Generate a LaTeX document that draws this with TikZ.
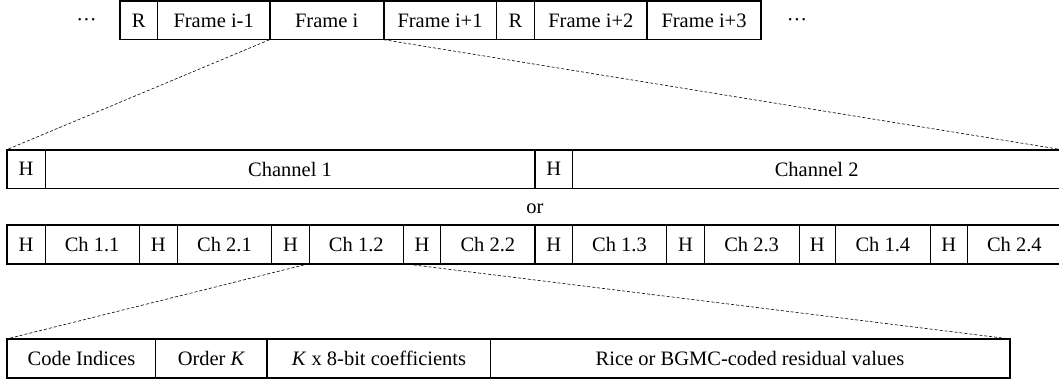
\documentclass[tikz,border=0pt]{standalone}
\usepackage{fontspec}
\setmainfont{Liberation Serif}
\tikzset{
  cell/.style={draw, line width=0.8pt, inner sep=0pt, font=\fontsize{20.5}{24}\selectfont},
  thickline/.style={line width=1.6pt},
  zoomline/.style={line width=0.6pt, dash pattern=on 3pt off 2pt},
  plain/.style={inner sep=0pt, font=\fontsize{20.5}{24}\selectfont}
}
\newcommand\cellat[6]{\node[cell, minimum width={(#3)-(#2)}, minimum height={(#5)-(#4)}] (#1) at ({((#2)+(#3))/2},{((#4)+(#5))/2}) {#6};}
\begin{document}
\begin{tikzpicture}[x=1pt,y=-1pt]
\useasboundingbox (0,0) rectangle (1059,379);
% top row
\def\ta{1.7}\def\tb{39.3}
\cellat{ra}{120}{157.3}{\ta}{\tb}{R}
\cellat{fa}{157.3}{270}{\ta}{\tb}{Frame i-1}
\cellat{fi}{270}{383.3}{\ta}{\tb}{Frame i}
\cellat{fb}{383.3}{496.7}{\ta}{\tb}{Frame i+1}
\cellat{rb}{496.7}{534.3}{\ta}{\tb}{R}
\cellat{fc}{534.3}{647.3}{\ta}{\tb}{Frame i+2}
\cellat{fd}{647.3}{760.7}{\ta}{\tb}{Frame i+3}
\node[plain, anchor=base] (dl) at (86.5,27) {···};
\node[plain, anchor=base] (dr) at (797,27) {···};
\draw[thickline] (ra.north west) rectangle (fd.south east);
\draw[thickline] (fi.north west) -- (fi.south west);
\draw[thickline] (fi.north east) -- (fi.south east);
\draw[thickline] (fd.north west) -- (fd.south west);
% row 2
\def\ba{150}\def\bb{188}
\cellat{ha}{7.3}{45}{\ba}{\bb}{H}
\cellat{cha}{45}{535}{\ba}{\bb}{Channel 1}
\cellat{hb}{535}{572.3}{\ba}{\bb}{H}
\cellat{chb}{572.3}{1061}{\ba}{\bb}{Channel 2}
\draw[thickline] (ha.north west) rectangle (chb.south east);
\draw[thickline] (hb.north west) -- (hb.south west);
\node[plain, anchor=base] (or) at (535,213.3) {or};
% row 3
\def\ca{225.7}\def\cb{263.3}
\cellat{h1}{7.3}{45}{\ca}{\cb}{H}
\cellat{c11}{45}{139.3}{\ca}{\cb}{Ch 1.1}
\cellat{h2}{139.3}{177.3}{\ca}{\cb}{H}
\cellat{c21}{177.3}{271.7}{\ca}{\cb}{Ch 2.1}
\cellat{h3}{271.7}{309.3}{\ca}{\cb}{H}
\cellat{c12}{309.3}{403.3}{\ca}{\cb}{Ch 1.2}
\cellat{h4}{403.3}{440.7}{\ca}{\cb}{H}
\cellat{c22}{440.7}{535}{\ca}{\cb}{Ch 2.2}
\cellat{h5}{535}{572.3}{\ca}{\cb}{H}
\cellat{c13}{572.3}{666.7}{\ca}{\cb}{Ch 1.3}
\cellat{h6}{666.7}{704.3}{\ca}{\cb}{H}
\cellat{c23}{704.3}{799}{\ca}{\cb}{Ch 2.3}
\cellat{h7}{799}{835.7}{\ca}{\cb}{H}
\cellat{c14}{835.7}{930}{\ca}{\cb}{Ch 1.4}
\cellat{h8}{930}{967.7}{\ca}{\cb}{H}
\cellat{c24}{967.7}{1061}{\ca}{\cb}{Ch 2.4}
\draw[thickline] (h1.north west) rectangle (c24.south east);
\draw[thickline] (h5.north west) -- (h5.south west);
% row 4
\def\da{339.3}\def\db{377.3}
\cellat{ci}{7.3}{155.7}{\da}{\db}{Code Indices}
\cellat{ok}{155.7}{267.3}{\da}{\db}{Order \textit{K}}
\cellat{kc}{267.3}{490.7}{\da}{\db}{\textit{K} x 8-bit coefficients}
\cellat{rv}{490.7}{1009.3}{\da}{\db}{Rice or BGMC-coded residual values}
\draw[thickline] (ci.north west) rectangle (rv.south east);
\draw[thickline] (ok.north west) -- (ok.south west);
\draw[thickline] (kc.north west) -- (kc.south west);
\draw[thickline] (rv.north west) -- (rv.south west);
% zoom lines
\draw[zoomline] (fi.south west) -- (ha.north west);
\draw[zoomline] (fi.south east) -- (chb.north east);
\draw[zoomline] (c12.south west) -- (ci.north west);
\draw[zoomline] (c12.south east) -- (rv.north east);
\end{tikzpicture}
\end{document}
